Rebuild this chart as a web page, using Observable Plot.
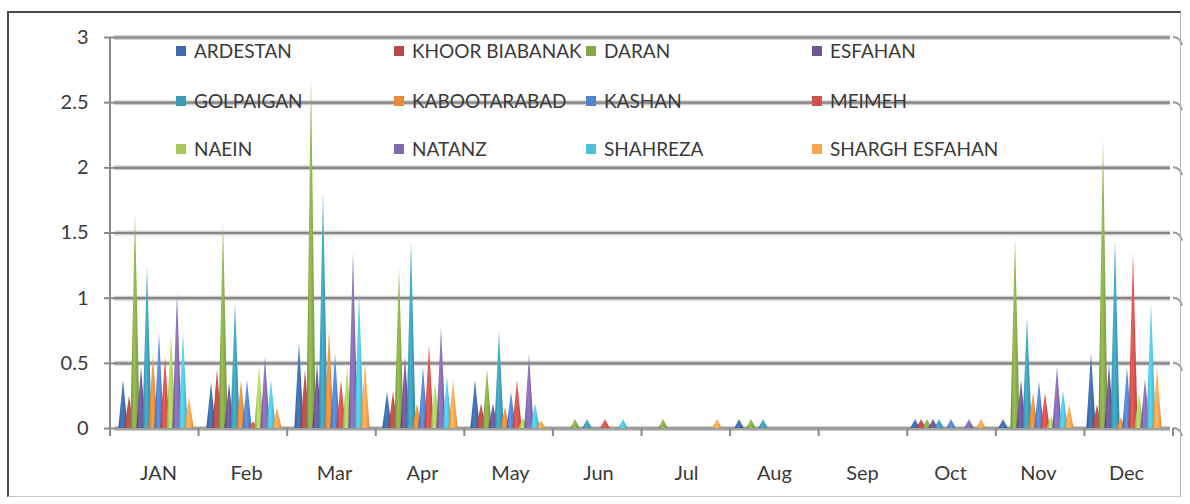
<!DOCTYPE html>
<html>
<head>
<meta charset="utf-8">
<script src="https://cdn.jsdelivr.net/npm/d3@7"></script>
<script src="https://cdn.jsdelivr.net/npm/@observablehq/plot@0.6"></script>
<style>
  html, body { margin: 0; padding: 0; background: #fff; }
  #wrap { position: relative; width: 1190px; height: 504px; overflow: hidden; }
  #frame { position: absolute; left: 7px; top: 11px; width: 1174px; height: 486px;
           border-left: 2px solid #4a4a4a; border-top: 2px solid #4a4a4a;
           border-right: 1px solid #b5b5b5; border-bottom: 1px solid #c8c8c8; box-sizing: border-box; pointer-events: none; }
</style>
</head>
<body>
<div id="wrap"><div id="frame"></div></div>
<script>
const months = ["JAN","Feb","Mar","Apr","May","Jun","Jul","Aug","Sep","Oct","Nov","Dec"];
const stations = ["ARDESTAN","KHOOR BIABANAK","DARAN","ESFAHAN","GOLPAIGAN","KABOOTARABAD",
                  "KASHAN","MEIMEH","NAEIN","NATANZ","SHAHREZA","SHARGH ESFAHAN"];
const colors = ["#3d6ca8","#b94848","#86a84a","#6f5596","#3c9cb6","#e9883a",
                "#4f84cc","#d0504c","#a6c95e","#8468ae","#4ec0da","#f9a24f"];

// monthly values, JAN .. Dec
const ARDESTAN      = [0.37,0.35,0.66,0.28,0.37,0,   0,   0.07,0,0.07,0.07,0.58];
const KHOOR_BIABANAK= [0.25,0.45,0.45,0.28,0.19,0,   0,   0,   0,0.07,0,   0.18];
const DARAN         = [1.65,1.57,2.70,1.23,0.45,0.07,0.07,0.07,0,0.07,1.46,2.22];
const ESFAHAN       = [0.47,0.35,0.50,0.55,0.19,0,   0,   0,   0,0.07,0.37,0.50];
const GOLPAIGAN     = [1.24,0.96,1.82,1.43,0.74,0.07,0,   0.07,0,0.07,0.85,1.45];
const KABOOTARABAD  = [0.57,0.37,0.75,0.19,0.16,0,   0,   0,   0,0,   0.27,0.08];
const KASHAN        = [0.73,0.37,0.58,0.47,0.28,0,   0,   0,   0,0.07,0.36,0.47];
const MEIMEH        = [0.55,0.05,0.37,0.64,0.37,0.07,0,   0,   0,0,   0.27,1.35];
const NAEIN         = [0.72,0.48,0.47,0.35,0.08,0,   0,   0,   0,0,   0.09,0.27];
const NATANZ        = [1.04,0.55,1.35,0.77,0.57,0,   0,   0,   0,0.07,0.47,0.38];
const SHAHREZA      = [0.73,0.37,1.04,0.39,0.19,0.07,0,   0,   0,0,   0.29,0.96];
const SHARGH_ESFAHAN= [0.24,0.16,0.50,0.37,0.06,0,   0.07,0,   0,0.07,0.18,0.46];

const series = [ARDESTAN,KHOOR_BIABANAK,DARAN,ESFAHAN,GOLPAIGAN,KABOOTARABAD,
                KASHAN,MEIMEH,NAEIN,NATANZ,SHAHREZA,SHARGH_ESFAHAN];
const yTicks = [0,0.5,1,1.5,2,2.5,3];
const yTickLabels = ["0","0.5","1","1.5","2","2.5","3"];

const rows = [];
months.forEach((m, j) => stations.forEach((s, i) => rows.push({month: m, station: s, value: series[i][j]})));

const FONT = "Lato, 'Open Sans', sans-serif";

const chart = Plot.plot({
  width: 1190, height: 504,
  marginLeft: 110, marginRight: 17, marginTop: 37, marginBottom: 76,
  style: {fontFamily: FONT, fontSize: "20px", color: "#3a3a3a", background: "transparent", overflow: "visible"},
  facet: {data: rows, x: "month"},
  fx: {domain: months, padding: 0, label: null, axis: "bottom", tickSize: 0, tickPadding: 37},
  x: {domain: stations, axis: null, paddingInner: 0, paddingOuter: 0.75, align: 0.4},
  y: {domain: [0, 3], ticks: yTicks, tickFormat: (d) => yTickLabels[yTicks.indexOf(d)], tickSize: 10, tickPadding: 16, label: null},
  color: {domain: stations, range: colors},
  marks: [
    Plot.ruleY(yTicks.slice(1), {stroke: "#d0d0d0", strokeWidth: 5}),
    Plot.ruleY(yTicks.slice(1), {stroke: "#858585", strokeWidth: 2.2}),
    Plot.ruleY([0], {stroke: "#a0a0a0", strokeWidth: 4}),
    Plot.barY(rows, {x: "station", y: "value", fill: "station"})
  ]
});

document.getElementById("wrap").prepend(chart);
const svg = d3.select(chart);

// gradients for cone shading
const defs = svg.insert("defs", ":first-child");
colors.forEach((c, i) => {
  const g = defs.append("linearGradient").attr("id", "cone" + i)
    .attr("x1", 0).attr("x2", 1).attr("y1", 0).attr("y2", 0);
  const col = d3.color(c);
  g.append("stop").attr("offset", "0%").attr("stop-color", col.darker(0.6).formatHex());
  g.append("stop").attr("offset", "40%").attr("stop-color", col.brighter(0.4).formatHex());
  g.append("stop").attr("offset", "70%").attr("stop-color", col.formatHex());
  g.append("stop").attr("offset", "100%").attr("stop-color", col.darker(0.5).formatHex());
});
const colorIndex = new Map(colors.map((c, i) => [d3.color(c).formatHex(), i]));

// turn each bar into a cone
svg.selectAll('g[aria-label="bar"] rect').each(function () {
  const r = d3.select(this);
  const x = +r.attr("x"), y = +r.attr("y"), w = +r.attr("width"), h = +r.attr("height");
  const fill = r.attr("fill");
  const idx = colorIndex.get(d3.color(fill).formatHex());
  const cx = x + w / 2, hw = w * 0.78;
  d3.select(this.parentNode).insert("path", () => this)
    .attr("d", `M${cx - hw},${y + h}L${cx},${y}L${cx + hw},${y + h}Z`)
    .attr("fill", idx != null ? `url(#cone${idx})` : fill);
  r.remove();
});

// axes styling
svg.selectAll('[aria-label^="y-axis"] line, [aria-label^="y-axis"] path').attr("stroke", "#8a8a8a").attr("stroke-width", 2);
svg.selectAll('[aria-label^="y-axis"] text').attr("fill", "#3a3a3a");

const ys = chart.scale("y");
const yMap = (v) => ys.range[0] + (v - ys.domain[0]) / (ys.domain[1] - ys.domain[0]) * (ys.range[1] - ys.range[0]);
const fxs = chart.scale("fx");
const fr = fxs.range;
const step = (fr[1] - fr[0]) / months.length;
const over = svg.append("g");
// left wall line
over.append("line").attr("x1", fr[0]).attr("x2", fr[0]).attr("y1", yMap(0) + 2).attr("y2", yMap(3))
  .attr("stroke", "#8a8a8a").attr("stroke-width", 2);
// month boundary ticks
d3.range(months.length + 1).forEach((i) => {
  const x = fr[0] + i * step;
  over.append("line").attr("x1", x).attr("x2", x).attr("y1", yMap(0)).attr("y2", yMap(0) + 8)
    .attr("stroke", "#8a8a8a").attr("stroke-width", 2);
});
// 3D bend at the right end of gridlines
yTicks.forEach((t) => {
  const y = yMap(t);
  over.append("path").attr("d", `M${fr[1]},${y}Q${fr[1] + 7},${y} ${fr[1] + 9},${y + 8}`)
    .attr("fill", "none").attr("stroke", "#9a9a9a").attr("stroke-width", 2);
});

// legend
const legCols = [181, 399, 591, 817];
const legRows = [51, 101, 149];
const leg = svg.append("g").attr("font-family", FONT).attr("font-size", 19)
  .attr("fill", "#3a3a3a").attr("text-anchor", "start");
stations.forEach((s, i) => {
  const cx = legCols[i % 4], cy = legRows[Math.floor(i / 4)];
  leg.append("rect").attr("x", cx - 5).attr("y", cy - 5).attr("width", 10).attr("height", 10).attr("fill", colors[i]);
  leg.append("text").attr("x", cx + 13).attr("y", cy).attr("dy", "0.36em").attr("text-anchor", "start").text(s);
});
</script>
</body>
</html>
